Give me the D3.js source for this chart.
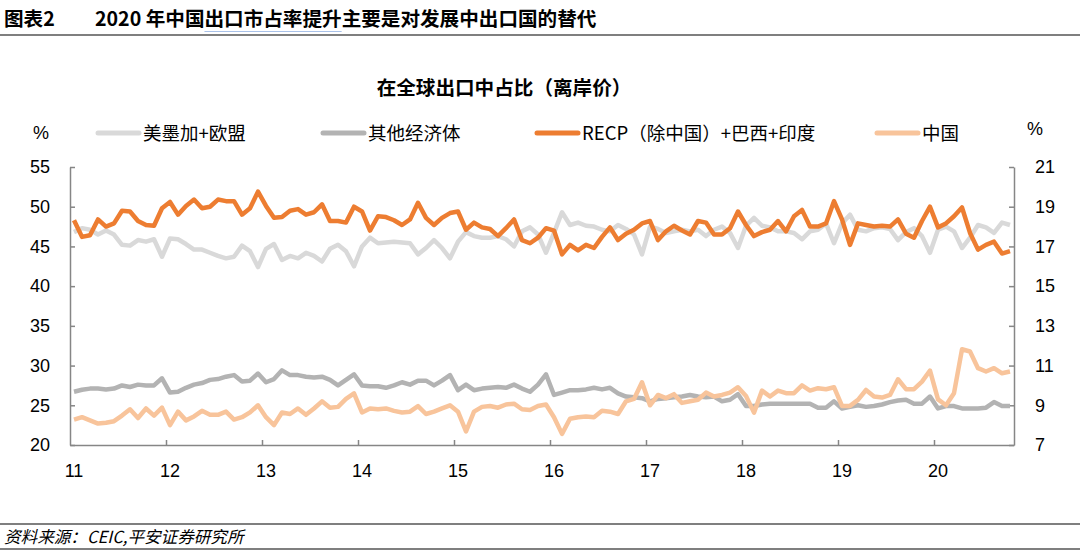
<!DOCTYPE html>
<html>
<head>
<meta charset="utf-8">
<script src="https://cdn.jsdelivr.net/npm/d3@7"></script>
<style>
  html, body { margin: 0; padding: 0; background: #fff; }
  svg { display: block; }
</style>
</head>
<body>
<svg id="chart" width="1080" height="553"></svg>
<script>
// ---- Data (monthly, Jan 2011 – Oct 2020) ----
const startYear = 2011;
const yearLabels = ["11","12","13","14","15","16","17","18","19","20"];
const leftTicks = [20,25,30,35,40,45,50,55];
const rightTicks = [7,9,11,13,15,17,19,21];

const seriesNames = ["美墨加+欧盟","其他经济体","RECP（除中国）+巴西+印度","中国"];

// 美墨加+欧盟 (left axis, %)
const usmcaEu = [
  46.8,47.3,47.1,46.5,47.0,46.5,45.2,45.1,45.8,45.6,45.9,43.7,
  46.0,45.9,45.3,44.6,44.6,44.2,43.8,43.5,43.7,45.1,44.4,42.4,
  44.7,45.3,43.3,43.8,43.5,44.2,43.8,43.1,44.7,45.2,44.4,42.5,
  45.0,46.1,45.4,45.5,45.6,45.5,45.4,44.0,44.8,45.8,44.8,43.5,
  45.6,46.8,46.3,46.1,46.1,46.3,45.9,45.0,46.9,47.4,46.5,44.2,
  46.7,49.3,47.7,48.0,47.6,47.5,47.1,46.9,47.7,47.2,46.5,44.0,
  47.5,47.2,46.7,46.9,47.1,46.9,47.1,46.3,47.1,47.5,46.7,44.8,
  47.6,48.6,47.6,47.4,46.9,46.9,46.7,45.9,46.9,47.1,47.9,45.4,
  47.9,49.0,47.1,46.9,47.3,47.4,47.2,45.8,46.8,47.3,46.3,44.2,
  47.1,47.5,46.9,44.8,46.1,47.7,47.4,46.7,48.0,47.7
];
// 其他经济体 (left axis, %)
const others = [
  26.7,26.95,27.1,27.1,27.0,27.1,27.5,27.3,27.6,27.5,27.5,28.4,
  26.6,26.7,27.2,27.6,27.8,28.2,28.3,28.6,28.8,28.0,28.1,29.0,
  27.9,28.3,29.4,28.8,28.8,28.6,28.5,28.6,28.2,27.5,28.2,28.9,
  27.5,27.4,27.4,27.2,27.5,27.9,27.6,28.1,28.1,27.5,28.1,28.8,
  26.9,27.6,26.9,27.1,27.2,27.3,27.2,27.6,27.1,26.7,27.6,28.9,
  26.3,26.6,26.9,26.9,27.0,27.2,27.0,27.2,26.5,26.1,26.0,25.9,
  25.5,25.8,25.9,26.0,26.1,26.3,26.1,26.0,26.1,25.5,25.7,26.4,
  24.9,24.9,25.1,25.2,25.2,25.2,25.2,25.2,25.2,24.7,24.7,25.5,
  24.6,24.8,25.0,24.8,24.9,25.1,25.4,25.6,25.7,25.2,25.2,26.1,
  24.6,24.9,24.9,24.6,24.6,24.6,24.7,25.4,24.9,24.9
];
// RECP（除中国）+巴西+印度 (left axis, %)
const rcepBrIn = [
  48.3,46.2,46.4,48.4,47.5,47.9,49.5,49.4,48.2,47.7,47.6,49.8,
  50.6,49.0,50.1,50.9,49.8,50.0,50.9,50.7,50.7,49.0,49.8,51.9,
  50.1,48.6,48.7,49.5,49.7,49.0,49.3,50.3,48.2,48.2,48.0,50.0,
  49.4,47.0,48.8,48.7,48.3,47.7,48.4,50.5,48.6,47.7,48.6,49.2,
  49.4,47.1,48.0,47.4,47.2,46.3,47.3,48.4,45.8,45.4,46.1,47.3,
  47.0,44.0,45.2,44.5,45.2,44.8,46.2,47.4,45.8,46.6,47.1,47.9,
  48.2,45.8,46.9,47.6,47.0,46.5,48.2,48.0,46.5,46.5,47.3,49.4,
  47.7,46.3,46.8,47.1,48.2,46.9,48.8,49.6,47.5,47.5,47.9,50.7,
  48.4,45.2,47.9,47.7,47.5,47.6,47.5,48.4,46.6,46.1,48.2,50.0,
  47.4,47.9,48.8,49.9,46.7,44.6,45.2,45.6,44.1,44.4
];
// 中国 (right axis, %)
const china = [
  8.28,8.40,8.24,8.08,8.12,8.20,8.48,8.80,8.36,8.84,8.48,8.88,
  8.00,8.68,8.24,8.44,8.72,8.52,8.52,8.68,8.28,8.40,8.64,9.00,
  8.40,8.00,8.64,8.56,8.84,8.52,8.84,9.20,8.88,8.92,9.32,9.60,
  8.64,8.84,8.80,8.84,8.72,8.64,8.68,8.96,8.56,8.68,8.84,9.00,
  8.68,7.68,8.68,8.92,8.96,8.88,9.04,9.08,8.80,8.76,8.96,9.04,
  8.40,7.56,8.32,8.40,8.44,8.40,8.72,8.68,8.56,9.20,9.32,10.16,
  9.00,9.52,9.36,9.56,9.12,9.20,9.28,9.64,9.44,9.52,9.64,9.91,
  9.47,8.63,9.74,9.44,9.74,9.61,9.61,10.00,9.74,9.86,9.81,9.91,
  8.97,8.97,9.27,9.77,9.44,9.39,9.52,10.31,9.81,9.81,10.19,10.75,
  9.30,9.00,9.61,11.82,11.71,10.87,10.70,10.87,10.61,10.70
];

// ---- Drawing ----
const svg = d3.select("#chart");
const W = 1080, H = 553;
const cjk = "'Noto Sans CJK SC', 'Liberation Sans', sans-serif";
const latin = "'Liberation Sans', Arial, 'Noto Sans CJK SC', sans-serif";

const nMonths = usmcaEu.length;
const plot = { left: 70, right: 1014, top: 167, bottom: 445 };

const x = d3.scaleLinear().domain([0, nMonths]).range([plot.left, plot.right]);
const yL = d3.scaleLinear().domain([20, 55]).range([plot.bottom, plot.top]);
const yR = d3.scaleLinear().domain([7, 21]).range([plot.bottom, plot.top]);

// Header
svg.append("text").attr("x", 4).attr("y", 26)
  .style("font-family", cjk).style("font-weight", "bold").style("font-size", "19.6px")
  .attr("fill", "#000").text("图表2");
const titleText = svg.append("text").attr("x", 95).attr("y", 26)
  .style("font-family", cjk).style("font-weight", "bold").style("font-size", "19.6px")
  .attr("fill", "#000").text("2020 年中国出口市占率提升主要是对发展中出口国的替代");
// faint spell-check style underline beneath "出口市占率提升"
(function () {
  const node = titleText.node();
  const s = node.getStartPositionOfChar(8).x;
  const e = node.getEndPositionOfChar(14).x;
  svg.append("line").attr("x1", s).attr("x2", e).attr("y1", 31.5).attr("y2", 31.5)
    .attr("stroke", "#a9c1e8").attr("stroke-width", 1.2);
})();
svg.append("line").attr("x1", 0).attr("x2", W).attr("y1", 35).attr("y2", 35)
  .attr("stroke", "#7f7f7f").attr("stroke-width", 2);

// Chart title
svg.append("text").attr("x", 504).attr("y", 95).attr("text-anchor", "middle")
  .style("font-family", cjk).style("font-weight", "bold").style("font-size", "19.6px")
  .attr("fill", "#000").text("在全球出口中占比（离岸价）");

// Axes
const axisColor = "#868686";
const gL = svg.append("g").attr("transform", `translate(${plot.left},0)`)
  .call(d3.axisLeft(yL).tickValues(leftTicks).tickSizeInner(-5).tickSizeOuter(0).tickPadding(20));
const gR = svg.append("g").attr("transform", `translate(${plot.right},0)`)
  .call(d3.axisRight(yR).tickValues(rightTicks).tickSizeInner(-5).tickSizeOuter(0).tickPadding(21));
const yearTicks = d3.range(1, yearLabels.length).map(k => k * 12);
const gB = svg.append("g").attr("transform", `translate(0,${plot.bottom})`)
  .call(d3.axisBottom(x).tickValues(yearTicks).tickSizeInner(-5).tickSizeOuter(0).tickFormat(""));

[gL, gR, gB].forEach(g => {
  g.select(".domain").attr("stroke", axisColor).attr("stroke-width", 1.5);
  g.selectAll(".tick line").attr("stroke", axisColor).attr("stroke-width", 1.5);
  g.selectAll("text").style("font-family", latin).style("font-size", "18px").attr("fill", "#000");
});

// X labels at January of each year
svg.append("g").selectAll("text").data(yearLabels).join("text")
  .attr("x", (d, k) => x(k * 12 + 0.5))
  .attr("y", 477)
  .attr("text-anchor", "middle")
  .style("font-family", latin).style("font-size", "18px").attr("fill", "#000")
  .text(d => d);

// Lines
const colors = ["#d9d9d9", "#b3b3b3", "#ed7d31", "#f8c49b"];
const lineL = d3.line().x((d, i) => x(i + 0.5)).y(d => yL(d)).curve(d3.curveLinear);
const lineR = d3.line().x((d, i) => x(i + 0.5)).y(d => yR(d)).curve(d3.curveLinear);

const plotG = svg.append("g");
[[usmcaEu, lineL, colors[0]], [others, lineL, colors[1]], [rcepBrIn, lineL, colors[2]], [china, lineR, colors[3]]]
  .forEach(([data, gen, c]) => {
    plotG.append("path").datum(data).attr("d", gen)
      .attr("fill", "none").attr("stroke", c).attr("stroke-width", 4.5)
      .attr("stroke-linejoin", "round").attr("stroke-linecap", "butt");
  });

// Units
svg.append("text").attr("x", 33).attr("y", 139)
  .style("font-family", latin).style("font-size", "18px").attr("fill", "#000").text("%");
svg.append("text").attr("x", 1027).attr("y", 135)
  .style("font-family", latin).style("font-size", "18px").attr("fill", "#000").text("%");

// Legend
const legendItems = [
  { name: seriesNames[0], color: colors[0], x1: 98 },
  { name: seriesNames[1], color: colors[1], x1: 323 },
  { name: seriesNames[2], color: colors[2], x1: 537 },
  { name: seriesNames[3], color: colors[3], x1: 877 }
];
const lg = svg.append("g");
legendItems.forEach(it => {
  lg.append("line").attr("x1", it.x1).attr("x2", it.x1 + 41).attr("y1", 133).attr("y2", 133)
    .attr("stroke", it.color).attr("stroke-width", 5).attr("stroke-linecap", "round");
  lg.append("text").attr("x", it.x1 + 45).attr("y", 140)
    .style("font-family", cjk).style("font-size", "18.5px").attr("fill", "#000").text(it.name);
});

// Footer
svg.append("line").attr("x1", 0).attr("x2", W).attr("y1", 524).attr("y2", 524)
  .attr("stroke", "#7f7f7f").attr("stroke-width", 2);
svg.append("text").attr("x", 4).attr("y", 543)
  .style("font-family", cjk).style("font-style", "italic").style("font-size", "16.6px")
  .attr("fill", "#000").text("资料来源：CEIC,平安证券研究所");
svg.append("line").attr("x1", 0).attr("x2", W).attr("y1", 549).attr("y2", 549)
  .attr("stroke", "#7f7f7f").attr("stroke-width", 2);
</script>
</body>
</html>
